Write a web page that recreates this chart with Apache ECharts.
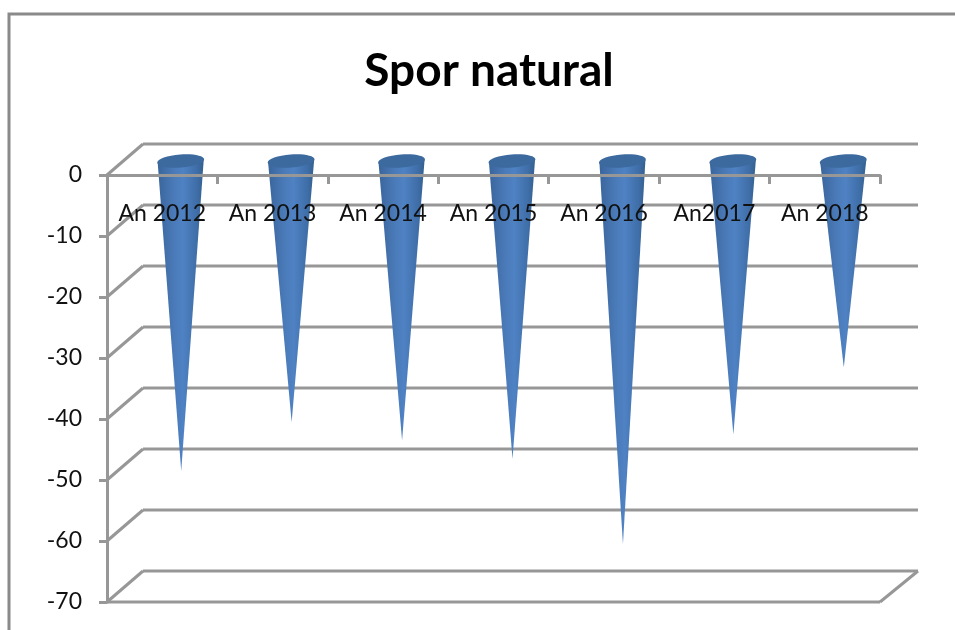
<!DOCTYPE html>
<html><head><meta charset="utf-8">
<style>html,body{margin:0;padding:0;background:#fff}#c{width:955px;height:630px}</style>
<script src="https://cdn.jsdelivr.net/npm/echarts@6/dist/echarts.min.js"></script>
</head><body><div id="c"></div>
<script>
const titleText = 'Spor natural';
const categories = ['An 2012','An 2013','An 2014','An 2015','An 2016','An2017','An 2018'];
const values = [-51,-43,-46,-49,-63,-45,-34];
const yMin = -70, yMax = 0, yStep = 10;
const wallLevels = [0,-10,-20,-30,-40,-50,-60,-70];

const DX = 36, DY = -31, GREY = '#979797';
const chart = echarts.init(document.getElementById('c'));

function renderWall(params, api) {
  const v = api.value(0);
  const left = api.coord([0, v]);
  const x0 = params.coordSys.x, x1 = x0 + params.coordSys.width, y = left[1];
  const st = { stroke: GREY, lineWidth: 3, fill: null };
  const kids = [
    { type:'line', shape:{x1:x0,y1:y,x2:x0+DX,y2:y+DY}, style:st },
    { type:'line', shape:{x1:x0+DX,y1:y+DY,x2:x1+DX+2,y2:y+DY}, style:st }
  ];
  if (v === yMin) {
    kids.push({ type:'line', shape:{x1:x1,y1:y,x2:x1+DX+2,y2:y+DY}, style:st });
    kids.push({ type:'line', shape:{x1:x0,y1:y,x2:x1,y2:y}, style:st });
  }
  return { type:'group', children:kids };
}

function renderCone(params, api) {
  const i = api.value(0), v = api.value(1);
  const top = api.coord([i, 0]), tip = api.coord([i, v]);
  const cx = top[0] + 18.5, cy = top[1] - 13, tipY = tip[1] - 15;
  const hw = 23;
  const grad = new echarts.graphic.LinearGradient(0,0,1,0,[
    {offset:0,color:'#3a659c'},{offset:0.35,color:'#4a7ab8'},
    {offset:0.55,color:'#4f82c4'},{offset:0.85,color:'#3f6ea8'},{offset:1,color:'#34608f'}]);
  return { type:'group', children:[
    { type:'polygon', shape:{points:[[cx-hw,cy+1],[cx+hw,cy-2],[cx+0.5,tipY]]}, style:{fill:grad} },
    { type:'ellipse', x:cx, y:cy-1, rotation:0.07,
      shape:{cx:0,cy:0,rx:hw+0.5,ry:6.5},
      style:{fill:'#3c6a9f'} }
  ]};
}

chart.setOption({
  animation:false,
  backgroundColor:'#fff',
  title:{ text:titleText, left:484, top:43, textAlign:'center',
    textStyle:{ fontFamily:'Lato', fontWeight:'bold', fontSize:46, color:'#000' } },
  graphic:[{ type:'rect', z:0, silent:true, shape:{x:9,y:14,width:960,height:640},
    style:{ fill:'none', stroke:'#8a8a8a', lineWidth:3 } }],
  grid:{ left:107, right:75, top:175, bottom:28, containLabel:false, outerBoundsMode:'none' },
  xAxis:{ type:'category', data:categories, position:'top', z:5,
    axisLine:{ show:true, onZero:false, lineStyle:{color:GREY,width:3} },
    axisTick:{ show:true, inside:true, alignWithLabel:false, length:9, lineStyle:{color:GREY,width:3} },
    axisLabel:{ inside:true, margin:27, color:'#111', fontFamily:'Lato', fontSize:23, interval:0 },
    splitLine:{show:false} },
  yAxis:{ type:'value', min:yMin, max:yMax, interval:yStep, z:5,
    axisLine:{ show:true, lineStyle:{color:GREY,width:3} },
    axisTick:{ show:true, length:8, lineStyle:{color:GREY,width:3} },
    axisLabel:{ margin:25, color:'#111', fontFamily:'Lato', fontSize:23 },
    splitLine:{show:false} },
  series:[
    { type:'custom', z:1, silent:true, clip:false, renderItem:renderWall,
      encode:{x:-1,y:0}, data:wallLevels.map(v=>[v]) },
    { type:'custom', z:2, silent:true, clip:false, renderItem:renderCone,
      encode:{x:0,y:1}, data:values.map((v,i)=>[i,v]) }
  ]
});
</script></body></html>
